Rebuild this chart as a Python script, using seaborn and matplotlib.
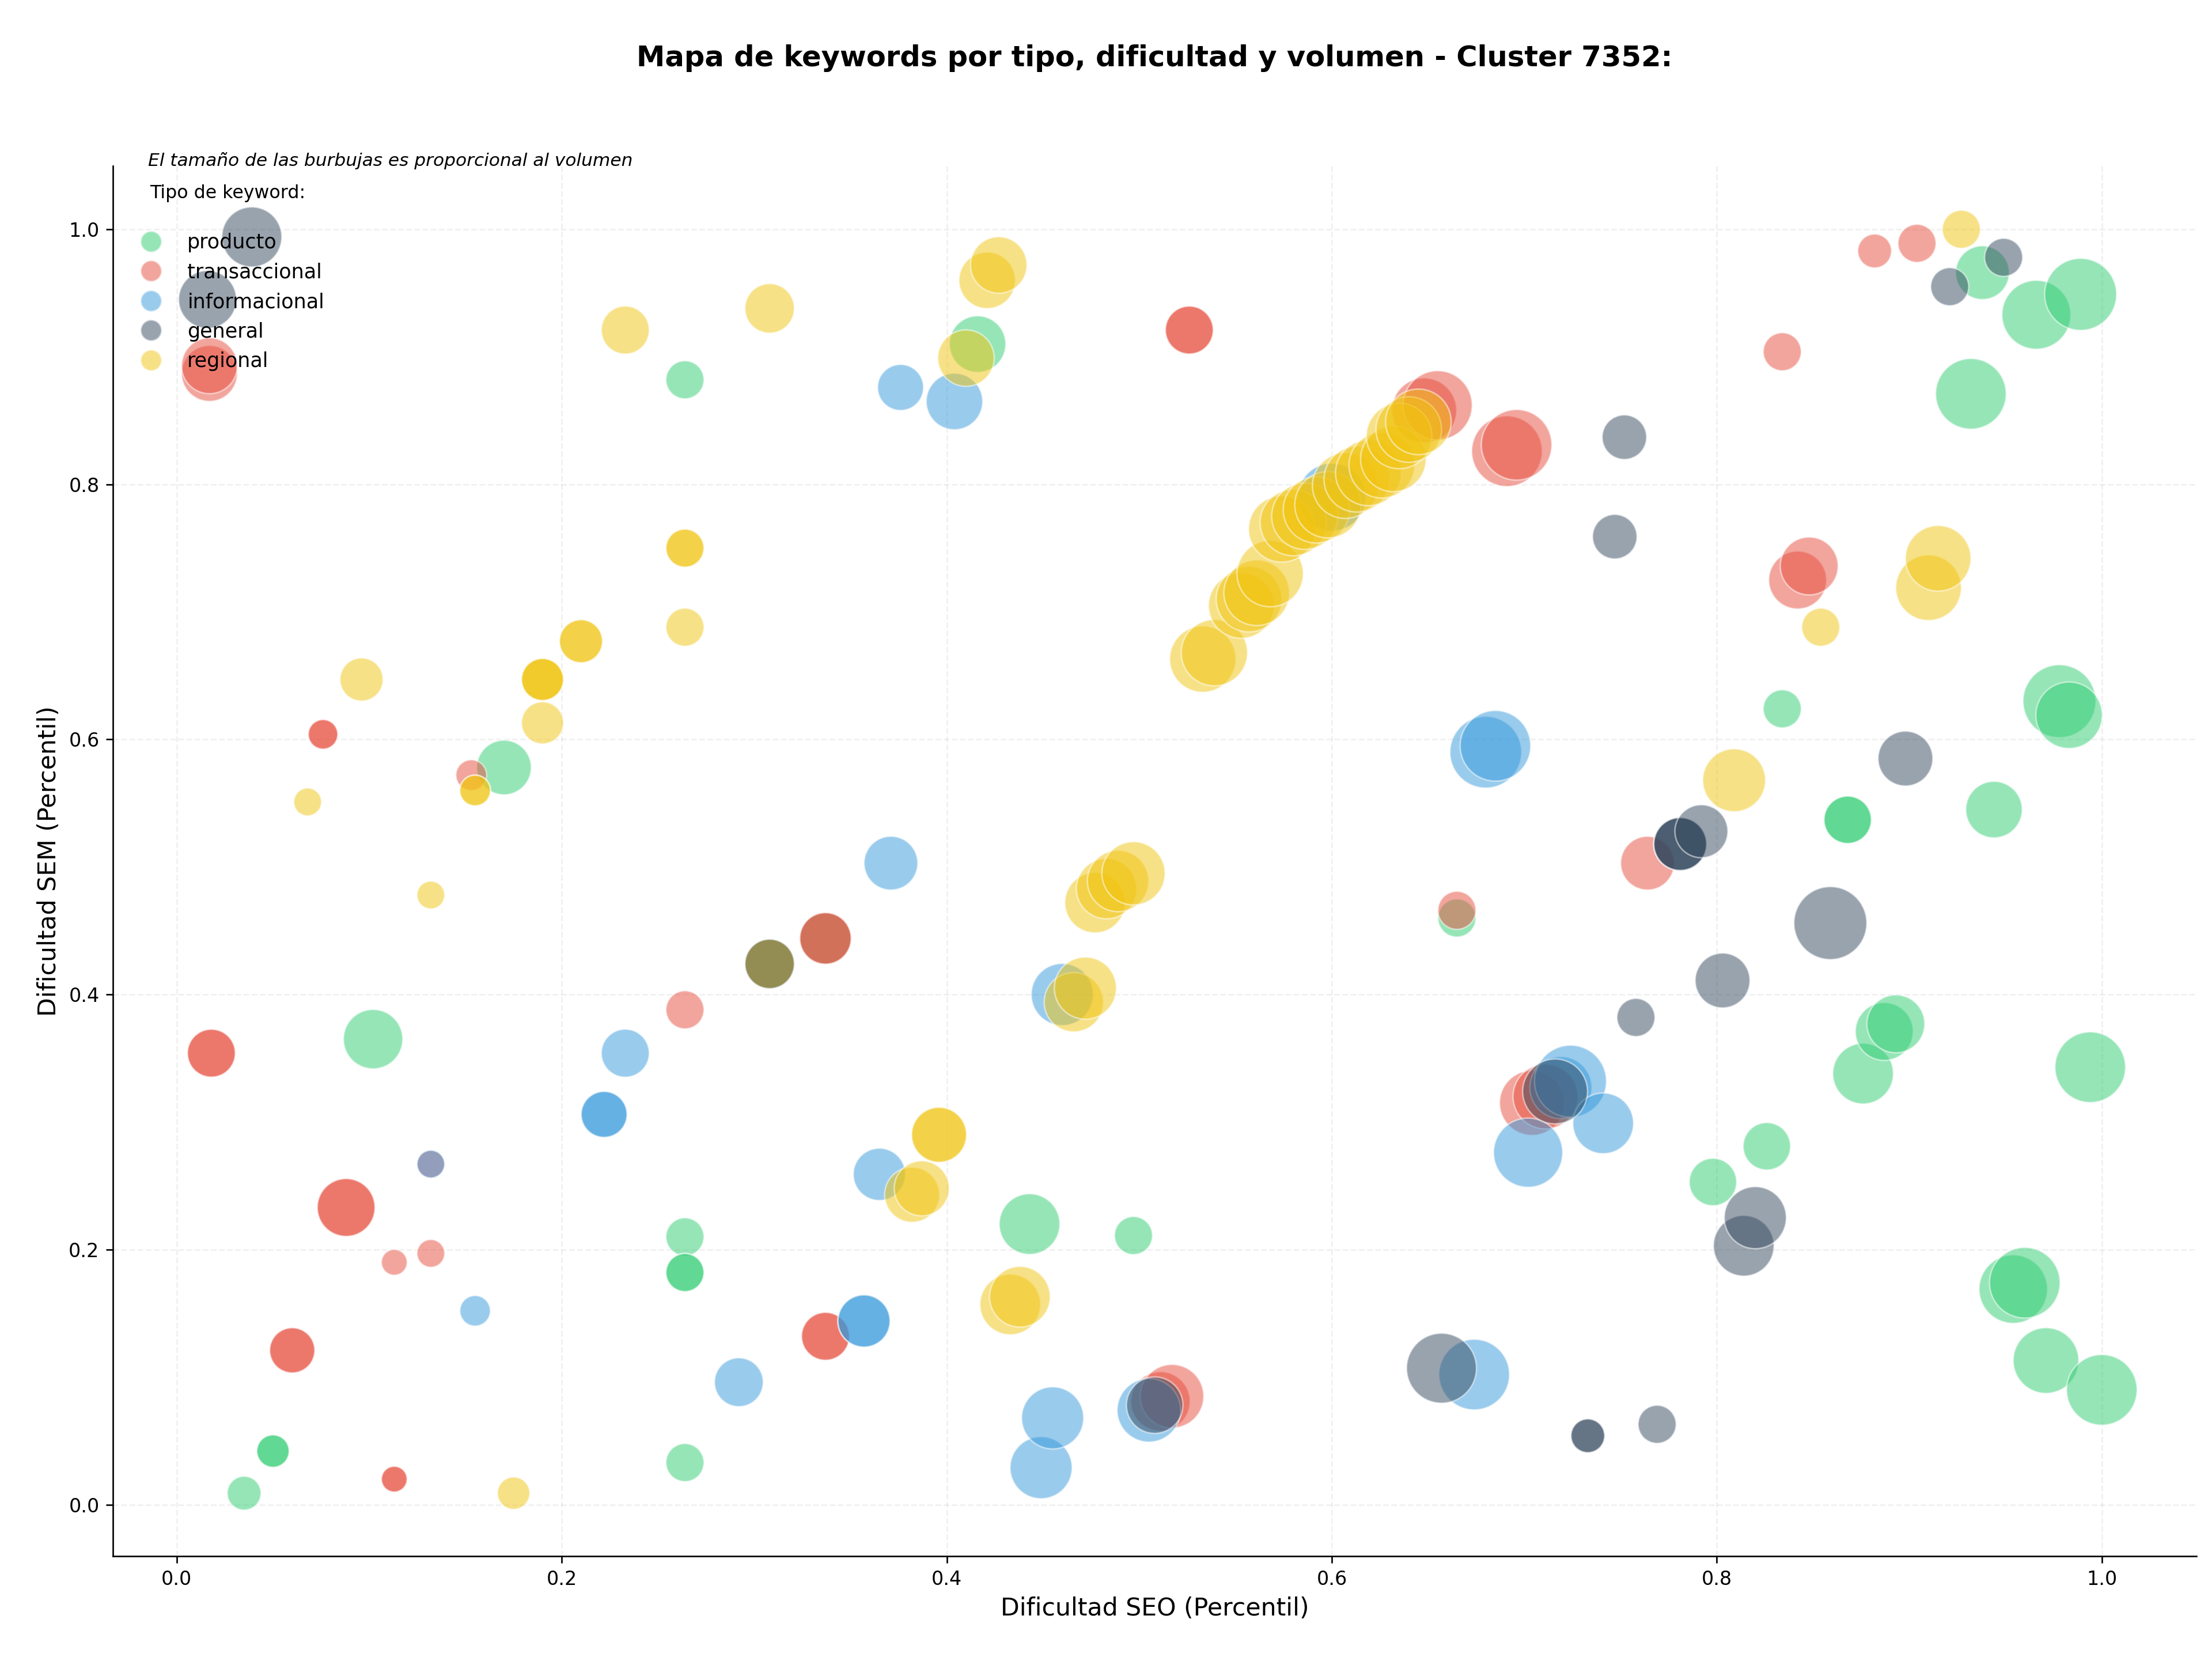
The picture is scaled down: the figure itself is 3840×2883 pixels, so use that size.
"""
Mapa de keywords por tipo, dificultad SEO/SEM y volumen (Cluster 7352)
"""

import pandas as pd
import matplotlib.pyplot as plt
import seaborn as sns
from matplotlib.lines import Line2D

sns.set_style('ticks', {'text.color': 'black', 'axes.labelcolor': 'black',
                        'xtick.color': 'black', 'ytick.color': 'black',
                        'axes.edgecolor': 'black'})
plt.rcParams['font.family'] = ['DejaVu Sans']

# --- Datos ---
tipos = ['producto', 'transaccional', 'informacional', 'general', 'regional']
colores = {'producto': '#2ecc71', 'transaccional': '#e74c3c',
           'informacional': '#3498db', 'general': '#34495e',
           'regional': '#f1c40f'}

producto_seo = [0.035, 0.050, 0.050, 0.102, 0.170, 0.264, 0.264, 0.264, 0.264, 0.264,
                0.337, 0.416, 0.443, 0.497, 0.665, 0.798, 0.826, 0.834, 0.868, 0.868,
                0.876, 0.887, 0.893, 0.932, 0.938, 0.944, 0.954, 0.960, 0.966, 0.971,
                0.978, 0.983, 0.989, 0.994, 1.000]
producto_sem = [0.009, 0.042, 0.042, 0.365, 0.578, 0.882, 0.210, 0.182, 0.182, 0.033,
                0.444, 0.910, 0.220, 0.211, 0.460, 0.253, 0.281, 0.624, 0.537, 0.537,
                0.338, 0.371, 0.377, 0.871, 0.966, 0.545, 0.169, 0.174, 0.933, 0.113,
                0.630, 0.619, 0.949, 0.343, 0.090]
producto_vol = [860, 790, 790, 2650, 2240, 1090, 1090, 1090, 1090, 1090,
                2000, 2400, 2770, 1090, 1090, 1690, 1690, 1090, 1690, 1690,
                2770, 2520, 2520, 3750, 2170, 2400, 3530, 3750, 3570, 3240,
                4000, 3320, 3900, 3750, 3750]

transaccional_seo = [0.017, 0.017, 0.018, 0.018, 0.060, 0.060, 0.076, 0.076, 0.088, 0.088,
                     0.113, 0.113, 0.113, 0.132, 0.132, 0.153, 0.264, 0.337, 0.337, 0.337,
                     0.337, 0.511, 0.517, 0.526, 0.526, 0.648, 0.655, 0.665, 0.691, 0.696,
                     0.704, 0.711, 0.764, 0.834, 0.842, 0.848, 0.882, 0.904]
transaccional_sem = [0.887, 0.893, 0.354, 0.354, 0.121, 0.121, 0.604, 0.604, 0.233, 0.233,
                     0.190, 0.020, 0.020, 0.197, 0.267, 0.572, 0.388, 0.444, 0.444, 0.132,
                     0.132, 0.081, 0.085, 0.921, 0.921, 0.858, 0.862, 0.466, 0.826, 0.831,
                     0.315, 0.320, 0.503, 0.904, 0.725, 0.736, 0.983, 0.989]
transaccional_vol = [2350, 2350, 1730, 1730, 1540, 1540, 660, 660, 2520, 2520,
                     500, 500, 500, 580, 580, 710, 1090, 2000, 2000, 1730,
                     1730, 2650, 3040, 1730, 1730, 3170, 3600, 1090, 3750, 3750,
                     3170, 3170, 2170, 1090, 2520, 2520, 860, 1090]

informacional_seo = [0.132, 0.155, 0.222, 0.222, 0.233, 0.292, 0.357, 0.357, 0.365, 0.371,
                     0.376, 0.404, 0.449, 0.455, 0.460, 0.505, 0.600, 0.674, 0.680, 0.685,
                     0.702, 0.719, 0.724, 0.741]
informacional_sem = [0.267, 0.152, 0.306, 0.306, 0.354, 0.096, 0.144, 0.144, 0.259, 0.503,
                     0.876, 0.865, 0.029, 0.068, 0.400, 0.074, 0.790, 0.102, 0.590, 0.595,
                     0.276, 0.327, 0.332, 0.299]
informacional_vol = [580, 700, 1590, 1590, 1730, 1790, 2050, 2050, 2050, 2170,
                     1590, 2400, 2900, 2900, 2900, 3040, 3460, 3750, 3870, 3750,
                     3600, 2900, 3900, 2770]

general_seo = [0.016, 0.039, 0.308, 0.508, 0.657, 0.716, 0.733, 0.733, 0.747, 0.752,
               0.758, 0.769, 0.781, 0.781, 0.781, 0.792, 0.803, 0.814, 0.820, 0.859,
               0.898, 0.921, 0.949]
general_sem = [0.945, 0.994, 0.424, 0.078, 0.107, 0.324, 0.054, 0.054, 0.759, 0.837,
               0.382, 0.063, 0.518, 0.518, 0.518, 0.528, 0.411, 0.203, 0.225, 0.456,
               0.585, 0.955, 0.978]
general_vol = [2520, 2710, 1840, 2400, 3680, 3170, 860, 860, 1490, 1490,
               1090, 1090, 2110, 2110, 2110, 2110, 2260, 2770, 2900, 4000,
               2260, 1090, 1090]

regional_seo = [0.068, 0.096, 0.132, 0.155, 0.155, 0.175, 0.190, 0.190, 0.190, 0.190,
                0.210, 0.210, 0.233, 0.264, 0.264, 0.264, 0.308, 0.308, 0.308, 0.382,
                0.387, 0.396, 0.396, 0.410, 0.421, 0.427, 0.433, 0.438, 0.466, 0.472,
                0.477, 0.483, 0.489, 0.497,
                0.533, 0.539, 0.553, 0.557, 0.561, 0.568, 0.574, 0.580, 0.586, 0.592,
                0.598, 0.607, 0.613, 0.619, 0.626, 0.632, 0.635, 0.640, 0.645,
                0.809, 0.854, 0.910, 0.915, 0.927]
regional_sem = [0.551, 0.647, 0.478, 0.560, 0.560, 0.009, 0.647, 0.647, 0.647, 0.613,
                0.677, 0.677, 0.921, 0.750, 0.750, 0.688, 0.938, 0.424, 0.424, 0.243,
                0.248, 0.290, 0.290, 0.899, 0.960, 0.972, 0.157, 0.163, 0.394, 0.405,
                0.472, 0.483, 0.489, 0.495,
                0.663, 0.668, 0.705, 0.710, 0.715, 0.730, 0.765, 0.770, 0.775, 0.780,
                0.784, 0.799, 0.804, 0.809, 0.815, 0.820, 0.838, 0.843, 0.849,
                0.568, 0.688, 0.719, 0.742, 1.000]
regional_vol = [580, 1400, 580, 710, 710, 790, 1330, 1330, 1330, 1330,
                1400, 1400, 1730, 1090, 1090, 1090, 1840, 1840, 1840, 2280,
                2280, 2280, 2280, 2400, 2400, 2400, 2770, 2770, 2650, 2900,
                2740, 2740, 2840, 3010,
                3310, 3310, 3240, 3240, 3240, 3310, 3310, 3310, 3310, 3310,
                3310, 3240, 3240, 3240, 3240, 3240, 3240, 3240, 3240,
                2970, 1090, 3240, 3240, 1090]

datos = {
    'producto': (producto_seo, producto_sem, producto_vol),
    'transaccional': (transaccional_seo, transaccional_sem, transaccional_vol),
    'informacional': (informacional_seo, informacional_sem, informacional_vol),
    'general': (general_seo, general_sem, general_vol),
    'regional': (regional_seo, regional_sem, regional_vol),
}

# orden de dibujo (lo ultimo queda encima)
orden_dibujo = ['producto', 'transaccional', 'informacional', 'regional', 'general']
df = pd.concat([
    pd.DataFrame({'dificultad_seo': datos[t][0], 'dificultad_sem': datos[t][1],
                  'volumen': datos[t][2], 'tipo': t})
    for t in orden_dibujo
], ignore_index=True)

# --- Grafico ---
fig = plt.figure(figsize=(16, 2883 / 240), dpi=240)
ax = fig.add_axes([0.051, 0.063, 0.942, 0.837])

vmin, vmax = df['volumen'].min(), df['volumen'].max()
sns.scatterplot(data=df, x='dificultad_seo', y='dificultad_sem',
                hue='tipo', palette=colores,
                size='volumen', sizes=(0.36 * vmin, 0.36 * vmax), size_norm=(vmin, vmax),
                alpha=0.5, edgecolor='white', linewidth=0.8,
                legend=False, ax=ax, zorder=3)

ax.grid(True, linestyle='--', alpha=0.3, zorder=0)
ax.set_axisbelow(True)
sns.despine(ax=ax)

ax.set_xlabel('Dificultad SEO (Percentil)', fontsize=12.8)
ax.set_ylabel('Dificultad SEM (Percentil)', fontsize=12.8)
ax.tick_params(labelsize=10)

# titulo centrado sobre el area de los ejes
fig.suptitle('Mapa de keywords por tipo, dificultad y volumen - Cluster 7352:',
             fontsize=14.9, fontweight='bold', x=0.522, y=0.965, va='center')

ax.text(0.017, 1.004, 'El tamaño de las burbujas es proporcional al volumen',
        transform=ax.transAxes, fontsize=9.4, style='italic', va='center')

handles = [Line2D([0], [0], marker='o', linestyle='', markersize=11,
                  markerfacecolor=colores[t], markeredgecolor='white', alpha=0.5)
           for t in tipos]
ax.legend(handles, tipos, title='Tipo de keyword:\n', loc='upper left',
          frameon=False, fontsize=10.5, title_fontsize=9.5)

plt.savefig('out.png', dpi=240, facecolor='white')
